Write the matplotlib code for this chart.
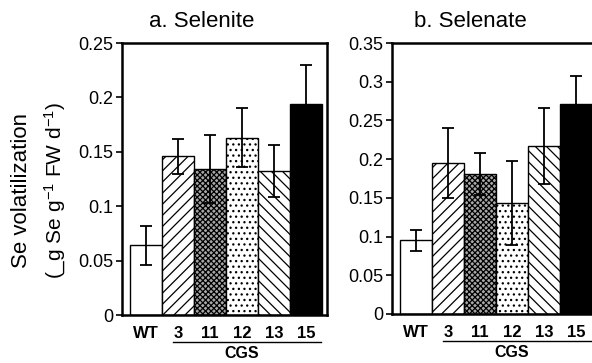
import matplotlib
matplotlib.use("Agg")
import matplotlib.pyplot as plt
import matplotlib.transforms as mtransforms

plt.rcParams['font.family'] = ['Liberation Sans', 'DejaVu Sans']
plt.rcParams['mathtext.fontset'] = 'custom'
plt.rcParams['mathtext.rm'] = 'Liberation Sans'
plt.rcParams['mathtext.it'] = 'Liberation Sans:italic'
plt.rcParams['hatch.linewidth'] = 0.9

categories = ['WT', '3', '11', '12', '13', '15']
selenite = [0.064, 0.146, 0.134, 0.163, 0.132, 0.194]
selenite_err = [0.018, 0.016, 0.031, 0.027, 0.024, 0.036]
selenate = [0.095, 0.195, 0.181, 0.143, 0.217, 0.271]
selenate_err = [0.014, 0.045, 0.027, 0.054, 0.049, 0.037]
sel_ticks = [0, 0.05, 0.1, 0.15, 0.2, 0.25]
sel_ticklabels = ['0', '0.05', '0.1', '0.15', '0.2', '0.25']
sen_ticks = [0, 0.05, 0.1, 0.15, 0.2, 0.25, 0.3, 0.35]
sen_ticklabels = ['0', '0.05', '0.1', '0.15', '0.2', '0.25', '0.3', '0.35']

faces = ['white', 'white', '#a8a8a8', 'white', 'white', 'black']
hatches = ['', '///', 'xxxxxx', '...', '\\\\\\', '']

fig = plt.figure(figsize=(5.92, 3.63), dpi=100)
axa = fig.add_axes([122/592, 1-315/363, 205/592, 272/363])
axb = fig.add_axes([392/592, 1-314/363, 205/592, 271/363])

def draw(ax, vals, errs, ticks, ticklabels, ymax, title, title_x):
    x = list(range(len(categories)))
    for i in x:
        ax.bar(i, vals[i], width=1.0, color=faces[i], edgecolor='black',
               linewidth=1.0, hatch=hatches[i], zorder=2)
    ax.errorbar(x, vals, yerr=errs, fmt='none', ecolor='black',
                elinewidth=1.3, capsize=4.5, capthick=1.3, zorder=3)
    ax.set_xlim(-0.75, 5.65)
    ax.set_ylim(0, ymax)
    ax.set_yticks(ticks)
    ax.set_yticklabels(ticklabels, fontsize=13)
    ax.set_xticks(x)
    ax.set_xticklabels(categories, fontsize=12, fontweight='bold')
    ax.tick_params(axis='x', length=0, pad=8)
    ax.tick_params(axis='y', length=4, width=1.2, pad=2)
    for s in ax.spines.values():
        s.set_linewidth(1.8)
    trans = mtransforms.blended_transform_factory(ax.transData, ax.transAxes)
    ax.plot([0.85, 5.45], [-0.101, -0.101], color='black', lw=1.0,
            transform=trans, clip_on=False)
    ax.text(3.0, -0.143, 'CGS', transform=trans, ha='center', va='center',
            fontsize=11.5, fontweight='bold')
    ax.text(title_x, 1.078, title, transform=ax.transAxes, ha='center',
            va='center', fontsize=16)

draw(axa, selenite, selenite_err, sel_ticks, sel_ticklabels, 0.25,
     'a. Selenite', 0.39)
draw(axb, selenate, selenate_err, sen_ticks, sen_ticklabels, 0.35,
     'b. Selenate', 0.38)

fig.text(22/592, 1-190/363, 'Se volatilization', rotation=90,
         ha='center', va='center', fontsize=16)
fig.text(55/592, 1-190/363, '(_g Se g$^{-1}$ FW d$^{-1}$)', rotation=90,
         ha='center', va='center', fontsize=15)

fig.savefig('out.png', dpi=100)
